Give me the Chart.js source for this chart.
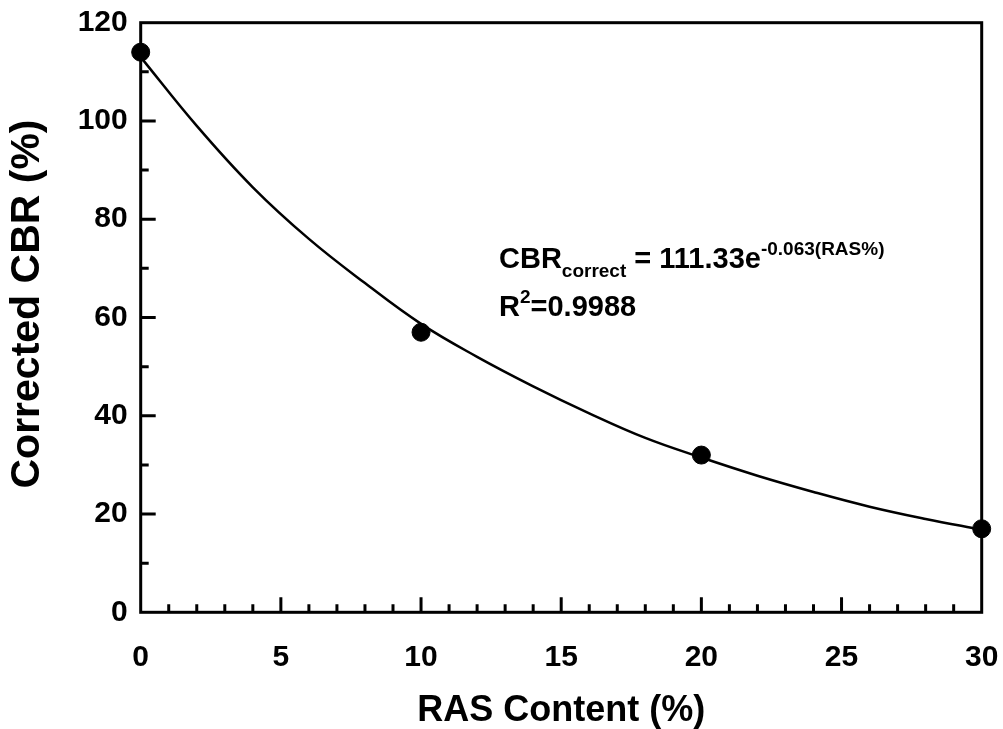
<!DOCTYPE html>
<html lang="en">
<head>
<meta charset="UTF-8">
<title>Corrected CBR vs RAS Content</title>
<script src="https://cdn.jsdelivr.net/npm/chart.js"></script>
<style>
    body { margin: 0; background: #fff; }
    #wrap { width: 1003px; height: 729px; }
</style>
</head>
<body>
<div id="wrap"><canvas id="cbrChart" width="1003" height="729"></canvas></div>
<script>
    // measured points
    const rasContent = [0, 10, 20, 30];
    const correctedCbr = [114, 57, 32, 17];

    // exponential trend line
    const fitRas = [0, 2, 4, 6, 8, 10, 12, 14, 16, 18, 20, 22, 24, 26, 28, 30];
    const fitCbr = [113, 99, 86.5, 76, 67, 58.7, 52, 46, 40.5, 35.5, 31.5, 27.8, 24.5, 21.5, 19, 16.8];

    const xTicks = [0, 5, 10, 15, 20, 25, 30];
    const yTicks = [0, 20, 40, 60, 80, 100, 120];

    const FONT = "'Liberation Sans', Arial, sans-serif";

    // frame + inward tick marks
    const framePlugin = {
        id: 'frame',
        beforeDatasetsDraw(chart) {
            const { ctx, chartArea: { left, right, top, bottom }, scales: { x, y } } = chart;
            ctx.save();
            ctx.strokeStyle = '#000';
            ctx.lineWidth = 3;
            ctx.beginPath();
            for (let v = 1; v < 30; v++) {
                const px = x.getPixelForValue(v);
                ctx.moveTo(px, bottom);
                ctx.lineTo(px, bottom - (v % 5 === 0 ? 15 : 8));
            }
            for (let v = 10; v < 120; v += 10) {
                const py = y.getPixelForValue(v);
                ctx.moveTo(left, py);
                ctx.lineTo(left + (v % 20 === 0 ? 15 : 8), py);
            }
            ctx.stroke();
            ctx.lineJoin = 'miter';
            ctx.strokeRect(left, top, right - left, bottom - top);
            ctx.restore();
        }
    };

    // y title + regression equation text
    const textPlugin = {
        id: 'texts',
        afterDraw(chart) {
            const ctx = chart.ctx;
            ctx.save();
            ctx.fillStyle = '#000';

            // y axis title (sits a little above the plot centre)
            ctx.save();
            ctx.translate(28, 304);
            ctx.rotate(-Math.PI / 2);
            ctx.textAlign = 'center';
            ctx.textBaseline = 'middle';
            ctx.font = 'bold 41px ' + FONT;
            ctx.fillText('Corrected CBR (%)', 0, 0);
            ctx.restore();

            ctx.textBaseline = 'alphabetic';
            ctx.textAlign = 'left';
            let x = 499;
            const base = 268;
            ctx.font = 'bold 29px ' + FONT;
            ctx.fillText('CBR', x, base);
            x += ctx.measureText('CBR').width;
            ctx.font = 'bold 19px ' + FONT;
            ctx.fillText('correct', x, base + 9);
            x += ctx.measureText('correct').width;
            ctx.font = 'bold 29px ' + FONT;
            ctx.fillText(' = 111.33e', x, base);
            x += ctx.measureText(' = 111.33e').width;
            ctx.font = 'bold 19px ' + FONT;
            ctx.fillText('-0.063(RAS%)', x, base - 13);

            x = 499;
            const base2 = 316;
            ctx.font = 'bold 29px ' + FONT;
            ctx.fillText('R', x, base2);
            x += ctx.measureText('R').width;
            ctx.font = 'bold 19px ' + FONT;
            ctx.fillText('2', x, base2 - 13);
            x += ctx.measureText('2').width;
            ctx.font = 'bold 29px ' + FONT;
            ctx.fillText('=0.9988', x, base2);
            ctx.restore();
        }
    };

    new Chart(document.getElementById('cbrChart'), {
        type: 'scatter',
        data: {
            datasets: [
                {
                    label: 'Fit',
                    data: fitRas.map((r, i) => ({ x: r, y: fitCbr[i] })),
                    showLine: true,
                    borderColor: '#000',
                    borderWidth: 2.5,
                    pointRadius: 0,
                    tension: 0.4,
                    clip: false
                },
                {
                    label: 'Corrected CBR',
                    data: rasContent.map((r, i) => ({ x: r, y: correctedCbr[i] })),
                    backgroundColor: '#000',
                    borderColor: '#000',
                    pointRadius: 9,
                    clip: false
                }
            ]
        },
        options: {
            responsive: false,
            animation: false,
            devicePixelRatio: 1,
            layout: { padding: { top: 22.7, right: 21.3, left: 0, bottom: 0 } },
            plugins: { legend: { display: false }, tooltip: { enabled: false } },
            scales: {
                x: {
                    type: 'linear',
                    min: 0,
                    max: 30,
                    afterBuildTicks: s => { s.ticks = xTicks.map(v => ({ value: v })); },
                    afterFit: s => { s.height = 116.7; s.paddingLeft = 0; s.paddingRight = 0; },
                    grid: { display: false, drawTicks: false },
                    border: { display: false },
                    ticks: { color: '#000', padding: 27, maxRotation: 0, font: { family: FONT, size: 30, weight: 'bold' } },
                    title: {
                        display: true,
                        text: 'RAS Content (%)',
                        color: '#000',
                        padding: 0,
                        font: { family: FONT, size: 36, weight: 'bold', lineHeight: 1.0 }
                    }
                },
                y: {
                    min: 0,
                    max: 120,
                    afterBuildTicks: s => { s.ticks = yTicks.map(v => ({ value: v })); },
                    afterFit: s => { s.width = 140.7; s.paddingTop = 0; s.paddingBottom = 0; },
                    grid: { display: false, drawTicks: false },
                    border: { display: false },
                    ticks: { color: '#000', padding: 13, font: { family: FONT, size: 30, weight: 'bold' } }
                }
            }
        },
        plugins: [framePlugin, textPlugin]
    });
</script>
</body>
</html>
